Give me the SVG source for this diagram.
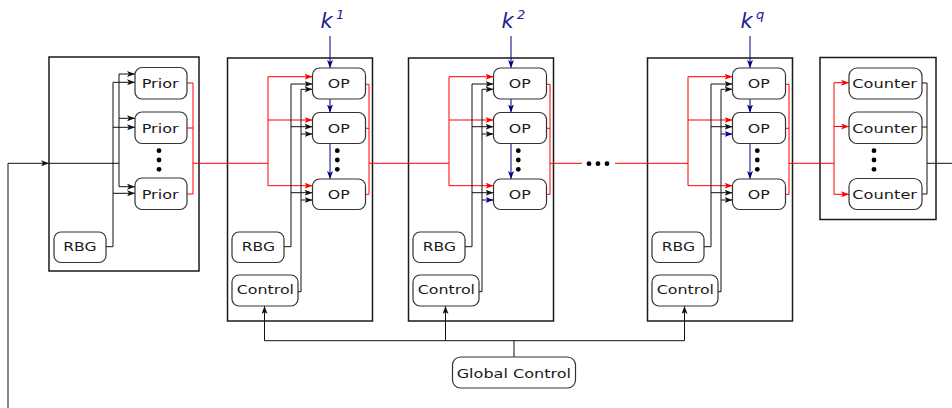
<svg xmlns="http://www.w3.org/2000/svg" width="952" height="408" viewBox="0 0 952 408">
<defs>
<style>
.blk{fill:#fff;stroke:#1a1a1a;stroke-width:1.5}
.nd{fill:#fff;stroke:#333;stroke-width:1.2}
.t{font-family:"DejaVu Sans",sans-serif;font-size:12.5px;fill:#1a1a1a}
.k{font-family:"DejaVu Sans",sans-serif;font-style:italic;fill:#1c1c94}
.ln{fill:none;stroke:#111;stroke-width:1}
.r{stroke:#ff0000}
.b{stroke:#000080}
.ah{marker-end:url(#ak)}
.ar{marker-end:url(#arr)}
.ab{marker-end:url(#abl)}
.dot{fill:#000}
</style>
<marker id="ak" viewBox="0 0 8 6" refX="8" refY="3" markerWidth="8" markerHeight="6" markerUnits="userSpaceOnUse" orient="auto"><path d="M0,0 L8,3 L0,6 L2,3 z" fill="#111"/></marker>
<marker id="arr" viewBox="0 0 8 6" refX="8" refY="3" markerWidth="8" markerHeight="6" markerUnits="userSpaceOnUse" orient="auto"><path d="M0,0 L8,3 L0,6 L2,3 z" fill="#ff0000"/></marker>
<marker id="abl" viewBox="0 0 8 6" refX="8" refY="3" markerWidth="8" markerHeight="6" markerUnits="userSpaceOnUse" orient="auto"><path d="M0,0 L8,3 L0,6 L2,3 z" fill="#000080"/></marker>
</defs>
<rect width="952" height="408" fill="#fff"/>

<g id="block1"><rect class="blk" x="49" y="57" width="150" height="214"/></g>
<g id="block2"><rect class="blk" x="227.5" y="58" width="145" height="263"/></g>
<g id="block3"><rect class="blk" x="408.5" y="58" width="145" height="263"/></g>
<g id="blockq"><rect class="blk" x="647.5" y="58" width="145" height="263"/></g>
<g id="block5"><rect class="blk" x="820" y="57.5" width="116" height="162"/></g>

<g id="connectors">
<path class="ln ah" d="M8,408 V163.3 H49"/>
<path class="ln" d="M49,163.3 H119"/>
<path class="ln" d="M119,74 V186.7"/>
<path class="ln ah" d="M119,74 H135"/>
<path class="ln ah" d="M119,118.3 H135"/>
<path class="ln ah" d="M119,186.7 H135"/>
<path class="ln ah" d="M106,246.7 H113 V82.3 H135"/>
<path class="ln ah" d="M113,127.3 H135"/>
<path class="ln ah" d="M113,193.3 H135"/>
<path class="ln r" d="M187,83 H193 V194 H187 M187,128 H193"/>
<path class="ln r" d="M193,163.3 H268"/>

<path class="ln b ab" d="M330,36 V68"/>
<path class="ln b ab" d="M330,99 V112.5"/>
<path class="ln b ab" d="M330,143.5 V179"/>
<path class="ln r" d="M268,76.7 V185.7"/>
<path class="ln r ar" d="M268,76.7 H312.5"/>
<path class="ln r ar" d="M268,120 H312.5"/>
<path class="ln r ar" d="M268,185.7 H312.5"/>
<path class="ln ah" d="M284,246.7 H291 V84 H312.5"/>
<path class="ln ah" d="M291,126.7 H312.5"/>
<path class="ln ah" d="M291,192.7 H312.5"/>
<path class="ln ah" d="M298,291.7 H301 V89.3 H312.5"/>
<path class="ln ah" d="M301,134 H312.5"/>
<path class="ln ah" d="M301,200 H312.5"/>
<path class="ln r" d="M365.5,84.3 H369 V194.3 H365.5 M365.5,128.3 H369"/>
<path class="ln r" d="M369,163.3 H449"/>

<path class="ln b ab" d="M511,36 V68"/>
<path class="ln b ab" d="M511,99 V112.5"/>
<path class="ln b ab" d="M511,143.5 V179"/>
<path class="ln r" d="M449,76.7 V185.7"/>
<path class="ln r ar" d="M449,76.7 H493.5"/>
<path class="ln r ar" d="M449,120 H493.5"/>
<path class="ln r ar" d="M449,185.7 H493.5"/>
<path class="ln ah" d="M465,246.7 H472 V84 H493.5"/>
<path class="ln ah" d="M472,126.7 H493.5"/>
<path class="ln ah" d="M472,192.7 H493.5"/>
<path class="ln ah" d="M479,291.7 H482 V89.3 H493.5"/>
<path class="ln ah" d="M482,134 H493.5"/>
<path class="ln b ab" d="M482,200 H493.5"/>
<path class="ln r" d="M546.5,84.3 H550 V194.3 H546.5 M546.5,128.3 H550"/>
<path class="ln r" d="M550,163.3 H582"/>
<path class="ln r" d="M615,163.3 H688"/>

<path class="ln b ab" d="M750,36 V68"/>
<path class="ln b ab" d="M750,99 V112.5"/>
<path class="ln b ab" d="M750,143.5 V179"/>
<path class="ln r" d="M688,76.7 V185.7"/>
<path class="ln r ar" d="M688,76.7 H732.5"/>
<path class="ln r ar" d="M688,120 H732.5"/>
<path class="ln r ar" d="M688,185.7 H732.5"/>
<path class="ln ah" d="M704,246.7 H711 V84 H732.5"/>
<path class="ln ah" d="M711,126.7 H732.5"/>
<path class="ln ah" d="M711,192.7 H732.5"/>
<path class="ln ah" d="M718,291.7 H721 V89.3 H732.5"/>
<path class="ln b ab" d="M721,134 H732.5"/>
<path class="ln ah" d="M721,200 H732.5"/>
<path class="ln r" d="M785.5,84.3 H789 V194.3 H785.5 M785.5,128.3 H789"/>
<path class="ln r" d="M789,163.3 H834"/>

<path class="ln r" d="M834,82.7 V194.3"/>
<path class="ln r ar" d="M834,82.7 H849"/>
<path class="ln r ar" d="M834,126.5 H849"/>
<path class="ln r ar" d="M834,194.3 H849"/>
<path class="ln" d="M922,83 H927 V194 H922 M922,127 H927 M927,163.3 H952"/>

<path class="ln" d="M264.5,340.7 H684.5 M514,340.7 V357"/>
<path class="ln ah" d="M264.5,340.7 V306"/>
<path class="ln ah" d="M445.5,340.7 V306"/>
<path class="ln ah" d="M684.5,340.7 V306"/>
</g>

<g id="gapdots"><circle class="dot" cx="589" cy="163.7" r="2.4"/><circle class="dot" cx="598" cy="163.7" r="2.4"/><circle class="dot" cx="607" cy="163.7" r="2.4"/></g>

<g id="prior1"><rect class="nd" x="135" y="67.5" width="52" height="31.5" rx="7"/><text class="t" x="141.7" y="88.3" textLength="37" lengthAdjust="spacingAndGlyphs">Prior</text></g>
<g id="prior2"><rect class="nd" x="135" y="112" width="52" height="31.5" rx="7"/><text class="t" x="141.7" y="132.5" textLength="37" lengthAdjust="spacingAndGlyphs">Prior</text></g>
<g id="prior3"><rect class="nd" x="135" y="178" width="52" height="31.5" rx="7"/><text class="t" x="141.7" y="198.6" textLength="37" lengthAdjust="spacingAndGlyphs">Prior</text></g>
<g id="dots1"><circle class="dot" cx="159" cy="150.7" r="2.4"/><circle class="dot" cx="159" cy="160" r="2.4"/><circle class="dot" cx="159" cy="169.3" r="2.4"/></g>
<g id="rbg1"><rect class="nd" x="54" y="232" width="52" height="30.5" rx="7"/><text class="t" x="63.3" y="251.2" textLength="33.3" lengthAdjust="spacingAndGlyphs">RBG</text></g>

<g id="k1"><text class="k" x="320.5" y="28.3" font-size="21">k</text><text class="k" x="336" y="18.5" font-size="13">1</text></g>
<g id="op1_1"><rect class="nd" x="312.5" y="68" width="53" height="31" rx="7"/><text class="t" x="327.7" y="88.3" textLength="22" lengthAdjust="spacingAndGlyphs">OP</text></g>
<g id="op1_2"><rect class="nd" x="312.5" y="112.5" width="53" height="31" rx="7"/><text class="t" x="327.7" y="132.8" textLength="22" lengthAdjust="spacingAndGlyphs">OP</text></g>
<g id="op1_3"><rect class="nd" x="312.5" y="179" width="53" height="30.5" rx="7"/><text class="t" x="327.7" y="199" textLength="22" lengthAdjust="spacingAndGlyphs">OP</text></g>
<g id="dots2"><circle class="dot" cx="337.3" cy="150.7" r="2.4"/><circle class="dot" cx="337.3" cy="160" r="2.4"/><circle class="dot" cx="337.3" cy="169.3" r="2.4"/></g>
<g id="rbg2"><rect class="nd" x="232" y="232" width="52" height="30.5" rx="7"/><text class="t" x="241.7" y="251.2" textLength="33.3" lengthAdjust="spacingAndGlyphs">RBG</text></g>
<g id="ctrl2"><rect class="nd" x="232" y="275" width="66" height="31" rx="7"/><text class="t" x="236.7" y="293.8" textLength="57.3" lengthAdjust="spacingAndGlyphs">Control</text></g>

<g id="k2"><text class="k" x="501.5" y="28.3" font-size="21">k</text><text class="k" x="517" y="18.5" font-size="13">2</text></g>
<g id="op2_1"><rect class="nd" x="493.5" y="68" width="53" height="31" rx="7"/><text class="t" x="508.7" y="88.3" textLength="22" lengthAdjust="spacingAndGlyphs">OP</text></g>
<g id="op2_2"><rect class="nd" x="493.5" y="112.5" width="53" height="31" rx="7"/><text class="t" x="508.7" y="132.8" textLength="22" lengthAdjust="spacingAndGlyphs">OP</text></g>
<g id="op2_3"><rect class="nd" x="493.5" y="179" width="53" height="30.5" rx="7"/><text class="t" x="508.7" y="199" textLength="22" lengthAdjust="spacingAndGlyphs">OP</text></g>
<g id="dots3"><circle class="dot" cx="518.3" cy="150.7" r="2.4"/><circle class="dot" cx="518.3" cy="160" r="2.4"/><circle class="dot" cx="518.3" cy="169.3" r="2.4"/></g>
<g id="rbg3"><rect class="nd" x="413" y="232" width="52" height="30.5" rx="7"/><text class="t" x="422.7" y="251.2" textLength="33.3" lengthAdjust="spacingAndGlyphs">RBG</text></g>
<g id="ctrl3"><rect class="nd" x="413" y="275" width="66" height="31" rx="7"/><text class="t" x="417.7" y="293.8" textLength="57.3" lengthAdjust="spacingAndGlyphs">Control</text></g>

<g id="kq"><text class="k" x="740.5" y="28.3" font-size="21">k</text><text class="k" x="756" y="18.5" font-size="13">q</text></g>
<g id="opq_1"><rect class="nd" x="732.5" y="68" width="53" height="31" rx="7"/><text class="t" x="747.7" y="88.3" textLength="22" lengthAdjust="spacingAndGlyphs">OP</text></g>
<g id="opq_2"><rect class="nd" x="732.5" y="112.5" width="53" height="31" rx="7"/><text class="t" x="747.7" y="132.8" textLength="22" lengthAdjust="spacingAndGlyphs">OP</text></g>
<g id="opq_3"><rect class="nd" x="732.5" y="179" width="53" height="30.5" rx="7"/><text class="t" x="747.7" y="199" textLength="22" lengthAdjust="spacingAndGlyphs">OP</text></g>
<g id="dotsq"><circle class="dot" cx="757.3" cy="150.7" r="2.4"/><circle class="dot" cx="757.3" cy="160" r="2.4"/><circle class="dot" cx="757.3" cy="169.3" r="2.4"/></g>
<g id="rbgq"><rect class="nd" x="652" y="232" width="52" height="30.5" rx="7"/><text class="t" x="661.7" y="251.2" textLength="33.3" lengthAdjust="spacingAndGlyphs">RBG</text></g>
<g id="ctrlq"><rect class="nd" x="652" y="275" width="66" height="31" rx="7"/><text class="t" x="656.7" y="293.8" textLength="57.3" lengthAdjust="spacingAndGlyphs">Control</text></g>

<g id="counter1"><rect class="nd" x="849" y="68" width="73" height="31" rx="8"/><text class="t" x="852.3" y="88.3" textLength="64.7" lengthAdjust="spacingAndGlyphs">Counter</text></g>
<g id="counter2"><rect class="nd" x="849" y="112" width="73" height="31.5" rx="8"/><text class="t" x="852.3" y="132.5" textLength="64.7" lengthAdjust="spacingAndGlyphs">Counter</text></g>
<g id="counter3"><rect class="nd" x="849" y="178.5" width="73" height="31" rx="8"/><text class="t" x="852.3" y="198.8" textLength="64.7" lengthAdjust="spacingAndGlyphs">Counter</text></g>
<g id="dots5"><circle class="dot" cx="874" cy="150.7" r="2.4"/><circle class="dot" cx="874" cy="160" r="2.4"/><circle class="dot" cx="874" cy="169.3" r="2.4"/></g>

<g id="globalcontrol"><rect class="nd" x="452.5" y="357" width="123" height="31" rx="8"/><text class="t" x="456.7" y="377.6" textLength="114.3" lengthAdjust="spacingAndGlyphs">Global Control</text></g>
</svg>
